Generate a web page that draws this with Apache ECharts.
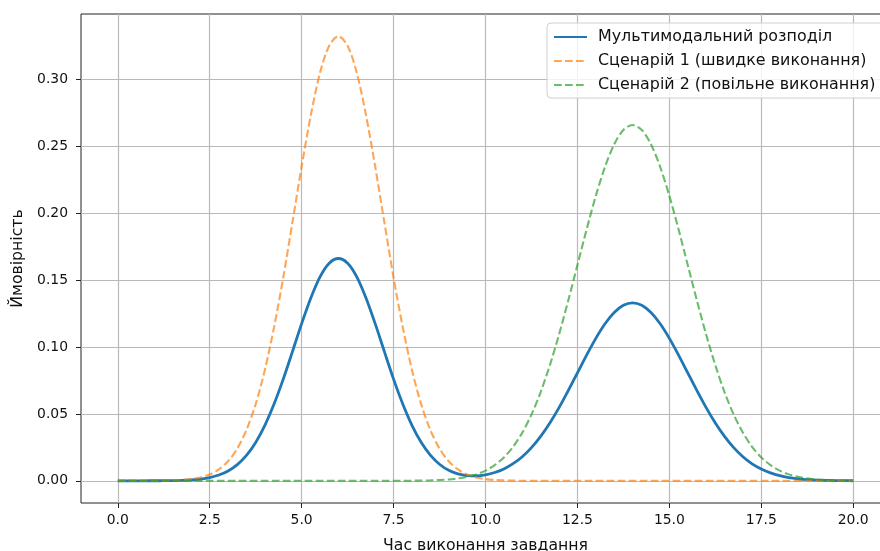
<!DOCTYPE html>
<html>
<head>
<meta charset="utf-8">
<script src="https://cdn.jsdelivr.net/npm/echarts@6/dist/echarts.min.js"></script>
<style>
  html, body { margin: 0; padding: 0; background: #fff; }
  #mychart { width: 880px; height: 551px; }
</style>
</head>
<body>
<div id="mychart"></div>
<script>
"use strict";
// час виконання (крок 0.25), по 4 значення на рядок
const xs = [
    0, 0.25, 0.5, 0.75, 1, 1.25, 1.5, 1.75, 2, 2.25, 2.5, 2.75, 3, 3.25, 3.5, 3.75,
    4, 4.25, 4.5, 4.75, 5, 5.25, 5.5, 5.75, 6, 6.25, 6.5, 6.75, 7, 7.25, 7.5, 7.75,
    8, 8.25, 8.5, 8.75, 9, 9.25, 9.5, 9.75, 10, 10.25, 10.5, 10.75, 11, 11.25, 11.5, 11.75,
    12, 12.25, 12.5, 12.75, 13, 13.25, 13.5, 13.75, 14, 14.25, 14.5, 14.75, 15, 15.25, 15.5, 15.75,
    16, 16.25, 16.5, 16.75, 17, 17.25, 17.5, 17.75, 18, 18.25, 18.5, 18.75, 19, 19.25, 19.5, 19.75,
    20
];
const multimodal = [
    0, 0, 0.00001, 0.00001,
    0.00003, 0.00007, 0.00015, 0.0003,
    0.0007, 0.0013, 0.0024, 0.0043,
    0.0073, 0.0121, 0.019, 0.0287,
    0.0415, 0.0574, 0.076, 0.0966,
    0.1175, 0.1367, 0.1525, 0.1627,
    0.1662, 0.1627, 0.1525, 0.1367,
    0.1175, 0.0966, 0.076, 0.0574,
    0.0415, 0.0288, 0.0192, 0.0124,
    0.0078, 0.0052, 0.0039, 0.0037,
    0.0045, 0.0062, 0.0089, 0.0128,
    0.018, 0.0248, 0.0332, 0.0432,
    0.0547, 0.0674, 0.0807, 0.094,
    0.1065, 0.1174, 0.1258, 0.1312,
    0.133, 0.1312, 0.1258, 0.1174,
    0.1065, 0.094, 0.0807, 0.0674,
    0.0547, 0.0432, 0.0332, 0.0248,
    0.018, 0.0127, 0.0088, 0.0059,
    0.0038, 0.0024, 0.0015, 0.0009,
    0.0005, 0.0003, 0.00015, 0.00009,
    0.00005
];
const scenario1 = [
    0, 0, 0.00001, 0.00002,
    0.00006, 0.00013, 0.0003, 0.0006,
    0.0013, 0.0025, 0.0047, 0.0085,
    0.0146, 0.0241, 0.038, 0.0573,
    0.0829, 0.1148, 0.152, 0.1932,
    0.235, 0.2734, 0.305, 0.3253,
    0.3324, 0.3253, 0.305, 0.2734,
    0.235, 0.1932, 0.152, 0.1148,
    0.0829, 0.0573, 0.038, 0.0241,
    0.0146, 0.0085, 0.0047, 0.0025,
    0.0013, 0.0006, 0.0003, 0.00013,
    0.00006, 0.00002, 0.00001, 0,
    0, 0, 0, 0,
    0, 0, 0, 0,
    0, 0, 0, 0,
    0, 0, 0, 0,
    0, 0, 0, 0,
    0, 0, 0, 0,
    0, 0, 0, 0,
    0, 0, 0, 0,
    0
];
const scenario2 = [
    0, 0, 0, 0,
    0, 0, 0, 0,
    0, 0, 0, 0,
    0, 0, 0, 0,
    0, 0, 0, 0,
    0, 0, 0, 0,
    0, 0, 0, 0,
    0, 0.00001, 0.00002, 0.00005,
    0.00009, 0.00017, 0.0003, 0.0006,
    0.001, 0.0018, 0.003, 0.0048,
    0.0076, 0.0117, 0.0175, 0.0254,
    0.036, 0.0495, 0.0663, 0.0864,
    0.1094, 0.1347, 0.1613, 0.188,
    0.213, 0.2347, 0.2516, 0.2623,
    0.266, 0.2623, 0.2516, 0.2347,
    0.213, 0.188, 0.1613, 0.1347,
    0.1094, 0.0864, 0.0663, 0.0495,
    0.036, 0.0254, 0.0175, 0.0117,
    0.0076, 0.0048, 0.003, 0.0018,
    0.001, 0.0006, 0.0003, 0.00017,
    0.00009
];
const xTicks = [0, 2.5, 5, 7.5, 10, 12.5, 15, 17.5, 20];
const yTicks = [0, 0.05, 0.1, 0.15, 0.2, 0.25, 0.3];
const names = ['Мультимодальний розподіл', 'Сценарій 1 (швидке виконання)', 'Сценарій 2 (повільне виконання)'];

const font = 'DejaVu Sans';
const toPairs = arr => xs.map((x, i) => [x, arr[i]]);

const chart = echarts.init(document.getElementById('mychart'));
const option = {
    backgroundColor: '#fff',
    animation: false,
    textStyle: { fontFamily: font },
    grid: {
        left: 81, right: -10, top: 14, bottom: 48,
        outerBoundsMode: 'none',
        show: true,
        borderColor: '#222',
        borderWidth: 1,
        backgroundColor: 'transparent'
    },
    legend: {
        orient: 'vertical',
        left: 547,
        top: 23,
        padding: [6, 16, 5, 6],
        itemWidth: 33,
        itemHeight: 14,
        itemGap: 8,
        backgroundColor: 'rgba(255,255,255,0.8)',
        borderColor: '#d0d0d0',
        borderWidth: 1,
        borderRadius: 4,
        itemStyle: { opacity: 0 },
        textStyle: { fontFamily: font, fontSize: 15.9, color: '#111', padding: [0, 0, 0, 6] },
        data: names
    },
    xAxis: {
        type: 'value',
        min: -1,
        max: 21,
        name: 'Час виконання завдання',
        nameLocation: 'middle',
        nameGap: 35,
        nameTextStyle: { fontFamily: font, fontSize: 15.7, color: '#111' },
        axisLine: { show: false, onZero: false },
        axisTick: { show: true, length: 5, customValues: xTicks, lineStyle: { color: '#222', width: 1 } },
        axisLabel: {
            customValues: xTicks, margin: 10, fontFamily: font, fontSize: 13.9, color: '#111',
            formatter: v => v.toFixed(1)
        },
        splitLine: { show: true, lineStyle: { color: '#bababa', width: 1.2 } }
    },
    yAxis: {
        type: 'value',
        min: -0.0166,
        max: 0.349,
        name: 'Ймовірність',
        nameLocation: 'middle',
        nameGap: 53,
        nameTextStyle: { fontFamily: font, fontSize: 15.7, color: '#111' },
        axisLine: { show: false, onZero: false },
        axisTick: { show: true, length: 5, customValues: yTicks, lineStyle: { color: '#222', width: 1 } },
        axisLabel: {
            customValues: yTicks, margin: 13, fontFamily: font, fontSize: 13.9, color: '#111',
            formatter: v => v.toFixed(2)
        },
        splitLine: { show: true, lineStyle: { color: '#bababa', width: 1.2 } }
    },
    series: [
        {
            name: names[0],
            type: 'line',
            data: toPairs(multimodal),
            symbol: 'none',
            smooth: 0.3,
            lineStyle: { color: '#1f77b4', width: 2.8 },
            itemStyle: { color: '#1f77b4' }
        },
        {
            name: names[1],
            type: 'line',
            data: toPairs(scenario1),
            symbol: 'none',
            smooth: 0.3,
            lineStyle: { color: '#ff7f0e', width: 2.1, opacity: 0.7, type: [7.7, 3.3] },
            itemStyle: { color: '#ff7f0e', opacity: 0.7 }
        },
        {
            name: names[2],
            type: 'line',
            data: toPairs(scenario2),
            symbol: 'none',
            smooth: 0.3,
            lineStyle: { color: '#2ca02c', width: 2.1, opacity: 0.7, type: [7.7, 3.3] },
            itemStyle: { color: '#2ca02c', opacity: 0.7 }
        }
    ]
};
chart.setOption(option);
</script>
</body>
</html>
